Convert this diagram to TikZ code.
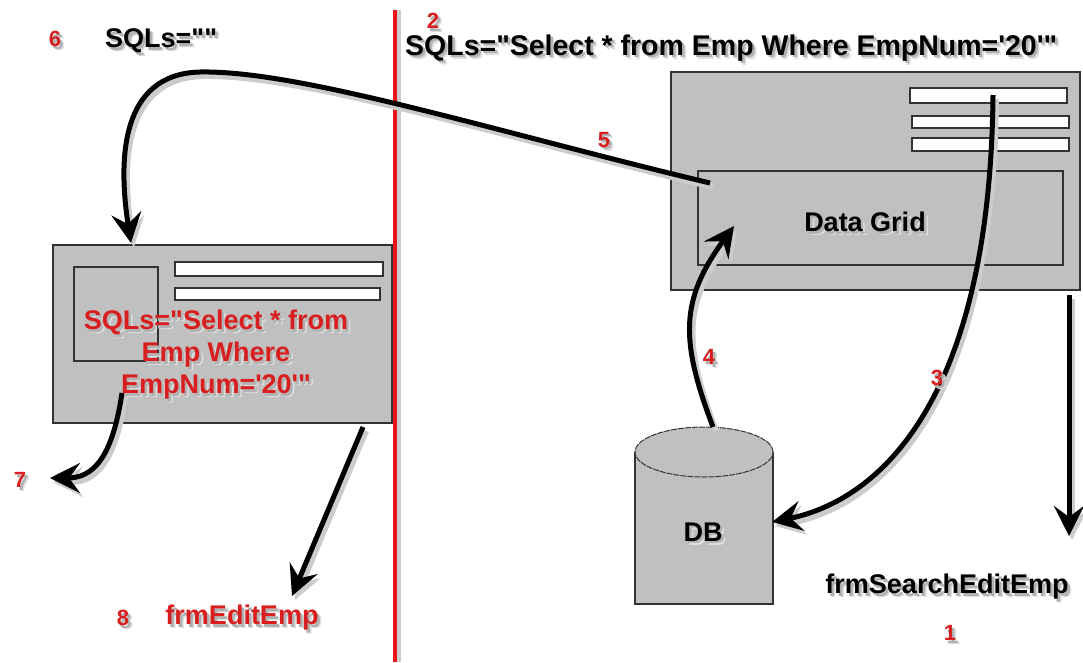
\documentclass[tikz,border=0pt]{standalone}
\usepackage{fontspec}
\setmainfont{Liberation Sans}
\usetikzlibrary{arrows.meta}
\definecolor{formgray}{HTML}{C0C0C0}
\definecolor{numred}{HTML}{D81E1E}
\definecolor{linered}{HTML}{E8161B}
\definecolor{edgegray}{HTML}{333333}
\newcommand{\sq}{\textquotesingle}
\newcommand{\dq}{\textquotedbl}
\newcommand{\shd}[1]{\makebox[0pt][l]{\kern4pt\raisebox{-4pt}[0pt][0pt]{\textcolor{black!13}{#1}}}\makebox[0pt][l]{\kern2.5pt\raisebox{-2.5pt}[0pt][0pt]{\textcolor{black!30}{#1}}}#1}
\tikzset{
  formbox/.style={draw=edgegray, line width=1.3pt, fill=formgray, inner sep=0pt, outer sep=0pt, anchor=north west},
  fieldbox/.style={draw=edgegray, line width=1.3pt, fill=white, inner sep=0pt, outer sep=0pt, anchor=north west},
  framebox/.style={draw=edgegray, line width=1.3pt, inner sep=0pt, outer sep=0pt, anchor=north west},
  lbl/.style={font=\fontsize{27}{32}\selectfont\bfseries, text=black, inner sep=0pt},
  headlbl/.style={font=\fontsize{28.5}{33}\selectfont\bfseries, text=black, inner sep=0pt},
  redlbl/.style={font=\fontsize{27}{32}\selectfont\bfseries, text=numred, inner sep=0pt},
  num/.style={font=\fontsize{22}{25}\selectfont\bfseries, text=numred, inner sep=0pt},
  arr/.style={line width=5pt, draw=black,
    -{Stealth[length=30pt,width=30pt,inset=11pt]},
    preaction={draw=black!20, line width=6pt, transform canvas={shift={(3pt,-4pt)}}}},
}
\begin{document}
\begin{tikzpicture}[x=1pt,y=-1pt]
\useasboundingbox (0,0) rectangle (1083,662);

% red divider
\coordinate (divtop) at (395,10);
\coordinate (divbot) at (395,662);
\draw[black!20, line width=4pt] ([xshift=4pt]divtop) -- ([xshift=4pt]divbot);
\draw[linered, line width=4pt] (divtop) -- (divbot);

% search form (right)
\node[formbox, minimum width=409pt, minimum height=218pt] (sform) at (671,72) {};
\node[fieldbox, minimum width=157pt, minimum height=15pt] (sf1) at (910,88) {};
\node[fieldbox, minimum width=157pt, minimum height=12pt] (sf2) at (912,116) {};
\node[fieldbox, minimum width=157pt, minimum height=13pt] (sf3) at (912,138) {};
\node[framebox, minimum width=365pt, minimum height=94pt] (grid) at (698,171) {};
\node[lbl] (gridlbl) at (865,222) {\shd{Data Grid}};

% edit form (left)
\node[formbox, minimum width=339pt, minimum height=178pt] (eform) at (53,245) {};
\node[framebox, minimum width=84pt, minimum height=94pt] (epic) at (74,267) {};
\node[fieldbox, minimum width=208pt, minimum height=14pt] (ef1) at (175,262) {};
\node[fieldbox, minimum width=205pt, minimum height=12pt] (ef2) at (175,288) {};

% database cylinder
\draw[edgegray, line width=1.2pt, fill=formgray] (635,452) -- (635,604) -- (773,604) -- (773,452);
\draw[edgegray, line width=1pt, fill=formgray, dash pattern=on 6pt off 1pt] (704,452) ellipse [x radius=69pt, y radius=25pt];
\node[lbl] (dblbl) at (703,532) {\shd{DB}};

% connector end points
\coordinate (a1s) at (1069,295);
\coordinate (a1e) at (1069,536);
\coordinate (a3s) at (993,95);
\coordinate (dbside) at (772,522);
\coordinate (dbtop) at (713,427);
\coordinate (a4e) at (734,226);
\coordinate (a5s) at (710,183);
\coordinate (a5m) at (200,72);
\coordinate (a5e) at (131,243);
\coordinate (a7s) at (122,393);
\coordinate (a7e) at (50,478);
\coordinate (a8s) at (363,427);
\coordinate (a8e) at (292,596);

% connectors
\draw[arr] (a1s) -- (a1e);
\draw[arr] (a3s) .. controls (990,400) and (880,500) .. (dbside);
\draw[arr] (dbtop) .. controls (680,340) and (680,300) .. (a4e);
\draw[arr] (a5s) .. controls (500,133) and (300,70) .. (a5m) .. controls (120,74) and (118,160) .. (a5e);
\draw[arr] (a7s) .. controls (112,460) and (92,478) .. (a7e);
\draw[arr] (a8s) -- (a8e);

% texts
\node[num] (n6) at (55,39) {\shd{6}};
\node[lbl, anchor=west] (sqlempty) at (105,41) {\shd{SQLs=\dq\dq}};
\node[num] (n2) at (433,21) {\shd{2}};
\node[headlbl, anchor=west] (sqlhead) at (405,48) {\shd{SQLs=\dq Select * from Emp Where EmpNum=\sq20\sq\dq}};
\node[num] (n5) at (604,140) {\shd{5}};
\node[num] (n4) at (709,357) {\shd{4}};
\node[num] (n3) at (937,378) {\shd{3}};
\node[lbl] (searchlbl) at (947,587) {\shd{frmSearchEditEmp}};
\node[num] (n1) at (950,633) {\shd{1}};
\node[redlbl, align=center] (sqlred) at (216,355) {\shd{SQLs=\dq Select * from}\\\shd{Emp Where}\\\shd{EmpNum=\sq20\sq\dq}};
\node[num] (n7) at (20,480) {\shd{7}};
\node[num] (n8) at (123,618) {\shd{8}};
\node[redlbl] (editlbl) at (242,618) {\shd{frmEditEmp}};
\end{tikzpicture}
\end{document}
